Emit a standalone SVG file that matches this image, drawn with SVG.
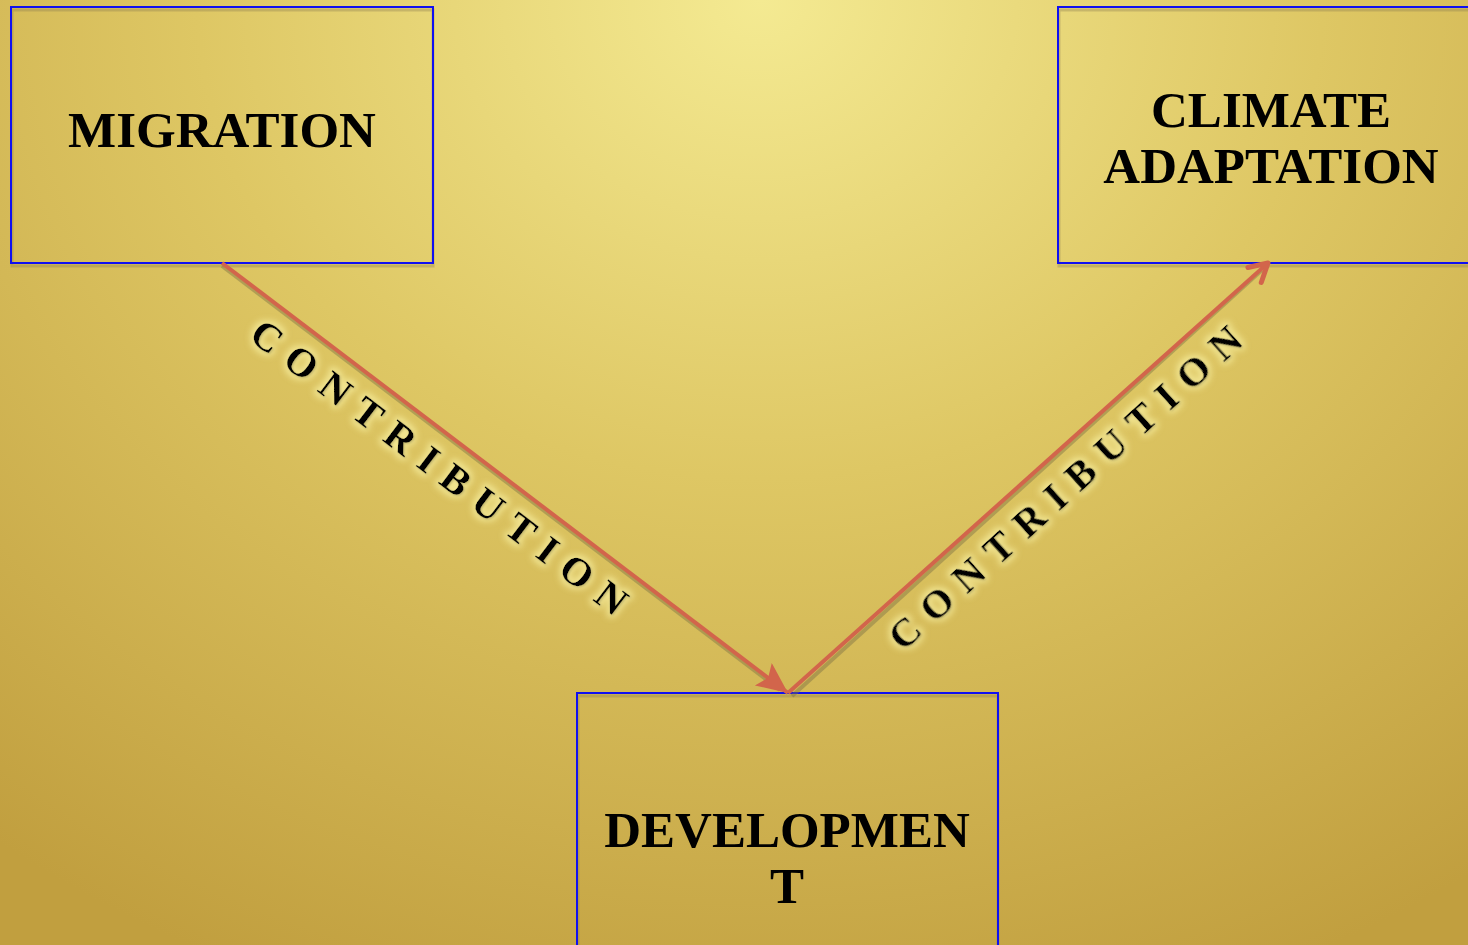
<svg xmlns="http://www.w3.org/2000/svg" width="1468" height="945" viewBox="0 0 1468 945">
  <defs>
    <radialGradient id="bg" cx="760" cy="0" r="1250" gradientUnits="userSpaceOnUse" gradientTransform="translate(760 0) scale(1 0.85) translate(-760 0)">
      <stop offset="0" stop-color="#f4ea92"/>
      <stop offset="0.45" stop-color="#dec764"/>
      <stop offset="1" stop-color="#c19f3f"/>
    </radialGradient>
    <filter id="glow" x="-20%" y="-50%" width="140%" height="200%">
      <feMorphology in="SourceAlpha" operator="dilate" radius="3" result="d"/>
      <feGaussianBlur in="d" stdDeviation="3" result="b"/>
      <feFlood flood-color="#f7ee9e" flood-opacity="0.75"/>
      <feComposite in2="b" operator="in" result="g"/>
      <feOffset in="SourceAlpha" dx="1" dy="1" result="o"/>
      <feGaussianBlur in="o" stdDeviation="0.8" result="ob"/>
      <feFlood flood-color="#6b5a1a" flood-opacity="0.5"/>
      <feComposite in2="ob" operator="in" result="s"/>
      <feMerge><feMergeNode in="g"/><feMergeNode in="s"/><feMergeNode in="SourceGraphic"/></feMerge>
    </filter>
    <marker id="tri" markerUnits="userSpaceOnUse" markerWidth="34" markerHeight="30" refX="31" refY="14" orient="auto">
      <path d="M0,0 L31,14 L0,28 L6,14 z" fill="#d2654b"/>
    </marker>
    <marker id="open" markerUnits="userSpaceOnUse" markerWidth="28" markerHeight="28" refX="22" refY="13" orient="auto">
      <path d="M4,3 L22,13 L4,23" fill="none" stroke="#d2654b" stroke-width="5" stroke-linecap="round" stroke-linejoin="round"/>
    </marker>
    <style>
      .box { fill: none; stroke: #1010f0; stroke-width: 2; }
      .boxsh { fill: none; stroke: #8a7a50; stroke-opacity: 0.35; stroke-width: 3; }
      .lbl { font-family: "Liberation Serif", "Times New Roman", serif; font-weight: bold; font-size: 51px; fill: #000; text-anchor: middle; }
      .edge { stroke: #d2654b; stroke-width: 4; fill: none; }
      .edgesh { stroke: #7d7045; stroke-opacity: 0.45; stroke-width: 4; fill: none; }
      .elbl { font-family: "Liberation Serif", "Times New Roman", serif; font-weight: bold; font-size: 40px; fill: #000; text-anchor: middle; letter-spacing: 13px; }
    </style>
  </defs>
  <rect x="0" y="0" width="1468" height="945" fill="url(#bg)"/>

  <g id="node-migration">
    <rect class="boxsh" x="12" y="10" width="421" height="256"/>
    <rect class="box" x="11" y="7" width="422" height="256"/>
    <text class="lbl" x="222" y="147">MIGRATION</text>
  </g>

  <g id="node-climate">
    <rect class="boxsh" x="1059" y="10" width="420" height="256"/>
    <rect class="box" x="1058" y="7" width="420" height="256"/>
    <text class="lbl" x="1271" y="127">CLIMATE</text>
    <text class="lbl" x="1271" y="183">ADAPTATION</text>
  </g>

  <g id="node-development">
    <rect class="boxsh" x="578" y="696" width="420" height="260"/>
    <rect class="box" x="577" y="693" width="421" height="262"/>
    <text class="lbl" x="787" y="847">DEVELOPMEN</text>
    <text class="lbl" x="787" y="903">T</text>
  </g>

  <g id="connectors">
    <line class="edgesh" x1="222" y1="266" x2="780" y2="690"/>
    <line class="edgesh" x1="792" y1="696" x2="1262" y2="270"/>
    <line class="edge" x1="222" y1="263" x2="788" y2="693" marker-end="url(#tri)"/>
    <line class="edge" x1="788" y1="693" x2="1268" y2="263" marker-end="url(#open)"/>
    <g filter="url(#glow)">
      <text class="elbl" transform="translate(440 467) rotate(37.2)" x="6" y="14">CONTRIBUTION</text>
      <text class="elbl" transform="translate(1065 487) rotate(-42.1)" x="6" y="14">CONTRIBUTION</text>
    </g>
  </g>
</svg>
